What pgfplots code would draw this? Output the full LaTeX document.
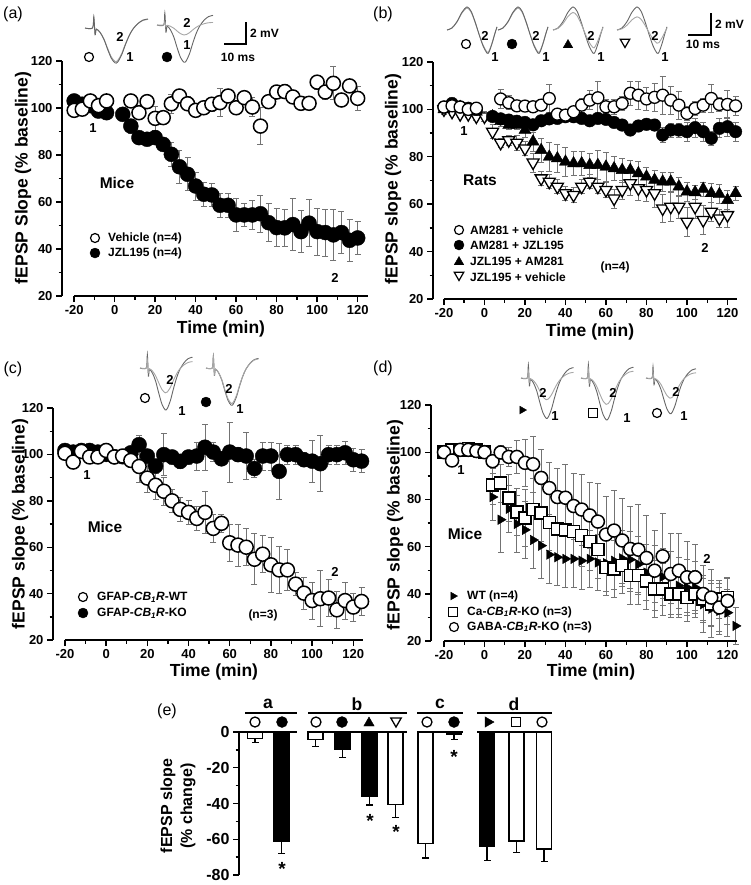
\documentclass[border=0pt]{standalone}
\usepackage{pgfplots}
\pgfplotsset{compat=1.18}
\usepackage{pgfplotstable}
\usepackage{fontspec}
\setmainfont{Liberation Sans}

% generic fEPSP trace shapes (px, y downwards)
\pgfplotstableread{
x y
0 0
6 0
7 -10
8 6
9 1
12 4
15 10
18 19
21 27
24 31
26 30
29 24
32 15
35 7
38 1
42 -4
46 -7
50 -8
}\waveA
\pgfplotstableread{
x y
0 0
5 -2
10 -8
15 -17
20 -22
24 -18
28 -8
32 4
36 15
40 22
42 21
45 13
48 3
50 -3
}\waveB

\newcommand{\trace}[6]{\addplot[#6] table[x expr=#2+#4*\thisrow{x}, y expr=#3+#5*\thisrow{y}] {#1};}

\pgfplotsset{
  tc/.style={
    anchor=south west, scale only axis,
    axis x line*=bottom, axis y line*=left,
    axis line style={-, line width=1.8pt},
    x axis line style={draw=none},
    ymin=20, ymax=120, ytick={20,40,...,120}, xtick={-20,0,...,120},
    minor x tick num=1, minor y tick num=1,
    tick align=outside, major tick length=6pt, minor tick length=3.5pt,
    tick style={black, line width=1.4pt},
    ticklabel style={font=\bfseries\fontsize{13}{13}\selectfont},
    /pgf/number format/assume math mode=true,
    clip=false,
  },
  errb/.style={error bars/.cd, y dir=both, y explicit,
    error bar style={black!55, line width=0.8pt},
    error mark options={rotate=90, black!55, mark size=3pt, line width=0.8pt}},
  mo/.style={mark=*, mark options={fill=white, draw=black, line width=#1}},
  mo/.default=1.5pt,
  mf/.style={mark=*, mark options={fill=black, draw=black}},
  mtu/.style={mark=triangle*, mark options={fill=black, draw=black}},
  mtd/.style={mark=triangle*, mark options={fill=white, draw=black, rotate=180, line width=#1}},
  mtd/.default=1.3pt,
  mtr/.style={mark=triangle*, mark options={fill=black, draw=black, rotate=-90}},
  msq/.style={mark=square*, mark options={fill=white, draw=black, line width=#1}},
  msq/.default=1.5pt,
  tr1/.style={black!60, line width=0.9pt, smooth},
  tr2/.style={black!35, line width=0.9pt, smooth},
}
\tikzset{
  t12/.style={font=\bfseries\fontsize{12}{12}\selectfont, inner sep=0pt},
  t13/.style={font=\bfseries\fontsize{13}{13}\selectfont, inner sep=0pt},
  t15/.style={font=\bfseries\fontsize{15.5}{15.5}\selectfont, inner sep=0pt},
  t16/.style={font=\bfseries\fontsize{16}{16}\selectfont, inner sep=0pt},
  t17/.style={font=\bfseries\fontsize{17.5}{17.5}\selectfont, inner sep=0pt},
  pl/.style={font=\fontsize{16}{16}\selectfont, inner sep=0pt},
}

\begin{document}
\begin{tikzpicture}
\useasboundingbox (0,0) rectangle (750pt,-885pt);

% ---------------- (a)
\begin{axis}[tc, at={(62pt,-296pt)}, width=306pt, height=235pt, xmin=-26, xmax=125.1]
\addplot[only marks, mf, mark size=7.5pt, errb] coordinates {
(-20,103) +- (0,1.5) (-16,101.6) +- (0,1) (-12,101) +- (0,1) (-8,98.7) +- (0,1) (-4,98) +- (0,1)
(4,97.3) +- (0,1) (8,92.3) +- (0,3) (12,87.4) +- (0,2) (16,86.7) +- (0,2) (20,87.4) +- (0,2)
(24,84.5) +- (0,2) (28,80.3) +- (0,5) (32,75) +- (0,7) (36,71.8) +- (0,7) (40,66.8) +- (0,6)
(44,63.3) +- (0,5) (48,63) +- (0,5) (52,58.6) +- (0,5) (56,58.6) +- (0,5) (60,54.5) +- (0,7)
(64,54.5) +- (0,5) (68,54.5) +- (0,6) (72,55) +- (0,8) (76,51.2) +- (0,8) (80,49.1) +- (0,8)
(84,49) +- (0,8) (88,50.4) +- (0,11) (92,47.4) +- (0,9) (96,51) +- (0,10) (100,47.4) +- (0,10)
(104,47) +- (0,10) (108,46) +- (0,11) (112,47) +- (0,9) (116,43.7) +- (0,9) (120,44.7) +- (0,7)};
\addplot[only marks, mo, mark size=7pt, errb] coordinates {
(-20,99) +- (0,2) (-16,99.5) +- (0,1.5) (-12,103) +- (0,1.5) (-8,101) +- (0,1.5) (-4,103) +- (0,2)
(8,103) +- (0,1.5) (12,98) +- (0,1.5) (16,102.7) +- (0,1.5) (20,95.6) +- (0,5) (24,95.9) +- (0,2)
(28,101.8) +- (0,4) (32,105.1) +- (0,2) (36,101.8) +- (0,3) (40,99) +- (0,1.5) (44,100.1) +- (0,1.5)
(48,101.6) +- (0,3) (52,102.3) +- (0,6) (56,105.1) +- (0,2) (60,100.1) +- (0,2) (64,104.4) +- (0,2)
(68,100.4) +- (0,4) (72,92.3) +- (0,8) (76,102.7) +- (0,1.5) (80,106.8) +- (0,2) (84,107) +- (0,3)
(88,104.7) +- (0,2) (92,102) +- (0,1.5) (96,102) +- (0,1.5) (100,111) +- (0,3) (104,106.8) +- (0,3)
(108,110.5) +- (0,7) (112,103.4) +- (0,2) (116,109.4) +- (0,1.5) (120,104.1) +- (0,5)};
\draw[line width=1.8pt] (axis cs:-20,20) -- (rel axis cs:1,0);
\end{axis}

% ---------------- (b)
\begin{axis}[tc, at={(433pt,-299pt)}, width=304pt, height=237pt, xmin=-25.4, xmax=124.7]
\addplot[only marks, mtd, mark size=7pt, errb] coordinates {
(-20,100) +- (0,2) (-16,99) +- (0,1.5) (-12,98) +- (0,1.5) (-8,98) +- (0,1.5) (-4,97) +- (0,1.5)
(0,97) +- (0,2) (4,90.6) +- (0,3) (8,85.9) +- (0,2) (12,87) +- (0,2) (16,85.9) +- (0,3)
(20,83.5) +- (0,3) (24,77.6) +- (0,4) (28,70.9) +- (0,3) (32,69.5) +- (0,3) (36,67.4) +- (0,3)
(40,64.6) +- (0,3) (44,63.9) +- (0,3) (48,67.4) +- (0,3) (52,69.5) +- (0,3) (56,67.4) +- (0,3)
(60,66) +- (0,3) (64,62.4) +- (0,4) (68,66) +- (0,4) (72,68.8) +- (0,5) (76,66.7) +- (0,5)
(80,66) +- (0,5) (84,64.6) +- (0,6) (88,58.2) +- (0,6) (92,58.9) +- (0,6) (96,58.9) +- (0,5)
(100,52.6) +- (0,6) (104,58.9) +- (0,5) (108,53.3) +- (0,6) (112,56.8) +- (0,4) (116,54) +- (0,4)
(120,55.4) +- (0,5)};
\addplot[only marks, mtu, mark size=7pt, errb] coordinates {
(-20,100) +- (0,2) (-16,101) +- (0,1.5) (-12,101) +- (0,1.5) (-8,100) +- (0,1.5) (-4,99) +- (0,1.5)
(4,97) +- (0,2) (8,95) +- (0,2) (12,93.4) +- (0,2) (16,93.4) +- (0,2) (20,91.3) +- (0,3)
(24,86.4) +- (0,4) (28,82.8) +- (0,5) (32,80) +- (0,6) (36,79.3) +- (0,6) (40,77.9) +- (0,6)
(44,77.2) +- (0,5) (48,77.2) +- (0,5) (52,76.5) +- (0,5) (56,76.5) +- (0,6) (60,75.8) +- (0,6)
(64,75.1) +- (0,5) (68,74.4) +- (0,5) (72,74.4) +- (0,4) (76,73) +- (0,5) (80,71.6) +- (0,4)
(84,70.2) +- (0,4) (88,69.5) +- (0,4) (92,69.5) +- (0,4) (96,67.4) +- (0,4) (100,65.3) +- (0,4)
(104,65) +- (0,3) (108,66.4) +- (0,3) (112,64.6) +- (0,4) (116,64.2) +- (0,4) (120,61.7) +- (0,4)
(124,64.6) +- (0,3)};
\addplot[only marks, mf, mark size=6.3pt, errb] coordinates {
(-20,101) +- (0,1.5) (-16,102.5) +- (0,1.5) (-12,101) +- (0,1) (-8,100.5) +- (0,1) (-4,100) +- (0,1)
(4,97) +- (0,2) (8,96) +- (0,2) (12,95.5) +- (0,2) (16,95) +- (0,2) (20,94.5) +- (0,2)
(24,93.5) +- (0,2) (28,95.2) +- (0,1.5) (32,96) +- (0,1.5) (36,96.2) +- (0,1.5) (40,96.9) +- (0,1.5)
(44,96.9) +- (0,1.5) (48,96.2) +- (0,1.5) (52,95.2) +- (0,1.5) (56,96.2) +- (0,1.5) (60,95.8) +- (0,1.5)
(64,94.5) +- (0,2) (68,93.4) +- (0,2) (72,91.3) +- (0,2) (76,93) +- (0,2) (80,93.7) +- (0,2)
(84,93.4) +- (0,2) (88,89.2) +- (0,3) (92,91.3) +- (0,3) (96,91.3) +- (0,3) (100,90.6) +- (0,4)
(104,92.3) +- (0,4) (108,90.6) +- (0,4) (112,87.8) +- (0,3) (116,92) +- (0,4) (120,92.7) +- (0,4)
(124,90.6) +- (0,4)};
\addplot[only marks, mo=1.3pt, mark size=6pt, errb] coordinates {
(-20,101) +- (0,2) (-16,101.5) +- (0,1.5) (-12,101) +- (0,1.5) (-8,100) +- (0,1.5) (-4,100.5) +- (0,1.5)
(8,104.4) +- (0,4) (12,102.8) +- (0,3) (16,101.5) +- (0,1) (20,101.4) +- (0,1) (24,101.1) +- (0,1)
(28,101.8) +- (0,2) (32,104.6) +- (0,6) (36,98) +- (0,2) (40,97.6) +- (0,2) (44,99) +- (0,2)
(48,101.8) +- (0,3) (52,103.9) +- (0,4) (56,104.9) +- (0,7) (60,101.1) +- (0,3) (64,101.1) +- (0,3)
(68,102.5) +- (0,3) (72,106.8) +- (0,5) (76,106) +- (0,6) (80,104.4) +- (0,5) (84,105.1) +- (0,6)
(88,106) +- (0,8) (92,103.9) +- (0,6) (96,101.8) +- (0,6) (100,98.3) +- (0,3) (104,100.4) +- (0,3)
(108,101.8) +- (0,3) (112,104.6) +- (0,6) (116,102.1) +- (0,3) (120,102.1) +- (0,6) (124,101.5) +- (0,4)};
\draw[line width=1.8pt] (axis cs:-20,20) -- (rel axis cs:1,0);
\end{axis}

% ---------------- (c)
\begin{axis}[tc, at={(53pt,-640pt)}, width=310pt, height=232pt, xmin=-25.8, xmax=124.7]
\addplot[only marks, mf, mark size=7.5pt, errb] coordinates {
(-20,101.7) +- (0,1) (-16,101) +- (0,1) (-12,101.7) +- (0,1) (-8,101.7) +- (0,1) (-4,101) +- (0,1)
(0,100) +- (0,1) (4,99) +- (0,1.5) (8,99) +- (0,1.5) (12,100.7) +- (0,2) (16,104.2) +- (0,4)
(20,99.3) +- (0,3) (24,95) +- (0,3) (28,99.9) +- (0,9) (32,98.9) +- (0,3) (36,97) +- (0,3)
(40,98.9) +- (0,3) (44,99.3) +- (0,6) (48,103.1) +- (0,10) (52,101) +- (0,4) (56,98.1) +- (0,3)
(60,101) +- (0,13) (64,99.9) +- (0,3) (68,99.3) +- (0,10) (72,93.9) +- (0,4) (76,99.3) +- (0,6)
(80,99.3) +- (0,6) (84,92.7) +- (0,12) (88,99.9) +- (0,4) (92,99.9) +- (0,4) (96,97.7) +- (0,3)
(100,97.1) +- (0,9) (104,96) +- (0,12) (108,99.9) +- (0,4) (112,99.9) +- (0,4) (116,100.7) +- (0,5)
(120,97.7) +- (0,5) (124,97.1) +- (0,5)};
\addplot[only marks, mo, mark size=7pt, errb] coordinates {
(-20,100.5) +- (0,2) (-16,96.7) +- (0,1) (-12,101.3) +- (0,1) (-8,98.9) +- (0,1) (-4,98.9) +- (0,1)
(0,101.7) +- (0,1) (4,98.9) +- (0,1.5) (8,99.3) +- (0,2) (12,97.4) +- (0,3) (16,94.8) +- (0,7)
(20,89.8) +- (0,6) (24,86.7) +- (0,6) (28,84.1) +- (0,6) (32,80) +- (0,5) (36,76.3) +- (0,5)
(40,75) +- (0,5) (44,72.4) +- (0,5) (48,75) +- (0,9) (52,68.1) +- (0,6) (56,70.3) +- (0,4)
(60,61.9) +- (0,8) (64,60.9) +- (0,9) (68,60) +- (0,8) (72,54.8) +- (0,11) (76,57) +- (0,8)
(80,52.4) +- (0,12) (84,50.2) +- (0,10) (88,50.2) +- (0,9) (92,44.1) +- (0,5) (96,40.2) +- (0,7)
(100,37) +- (0,8) (104,37.8) +- (0,12) (108,38.1) +- (0,8) (112,33) +- (0,8) (116,37) +- (0,8)
(120,34.2) +- (0,6) (124,36.6) +- (0,6)};
\draw[line width=1.8pt] (axis cs:-20,20) -- (rel axis cs:1,0);
\end{axis}

% ---------------- (d)
\begin{axis}[tc, at={(431pt,-641pt)}, width=306pt, height=236pt, xmin=-26.4, xmax=124.7]
\addplot[only marks, mtr, mark size=5.5pt, errb] coordinates {
(-20,100) +- (0,1) (-16,99) +- (0,1) (-12,100) +- (0,1) (-8,101) +- (0,1) (-4,100) +- (0,1)
(0,100) +- (0,1) (4,81) +- (0,10) (8,71.4) +- (0,14) (12,76) +- (0,10) (16,69.6) +- (0,12)
(20,67.1) +- (0,12) (24,62.8) +- (0,12) (28,60.4) +- (0,14) (32,56.6) +- (0,12) (36,55.5) +- (0,12)
(40,54.8) +- (0,12) (44,54.8) +- (0,12) (48,54) +- (0,12) (52,54.8) +- (0,12) (56,53.3) +- (0,12)
(60,53) +- (0,12) (64,54) +- (0,12) (68,55) +- (0,12) (72,54.5) +- (0,12) (76,52.5) +- (0,12)
(80,49) +- (0,12) (84,48.4) +- (0,12) (88,47.2) +- (0,12) (92,47) +- (0,11) (96,43.4) +- (0,12)
(100,42.7) +- (0,12) (104,42.7) +- (0,11) (108,35.6) +- (0,12) (112,33.7) +- (0,12) (116,32.8) +- (0,10)
(120,32) +- (0,10) (124,26.4) +- (0,8)};
\addplot[only marks, msq, mark size=6pt, errb] coordinates {
(-20,100) +- (0,1) (-16,101) +- (0,1) (-12,101) +- (0,1) (-8,101.5) +- (0,1) (-4,101) +- (0,1)
(0,100) +- (0,1) (4,86) +- (0,8) (8,86.9) +- (0,8) (12,80.7) +- (0,10) (16,74.6) +- (0,10)
(20,72.2) +- (0,12) (24,75.7) +- (0,13) (28,74.3) +- (0,12) (32,70.3) +- (0,12) (36,67.5) +- (0,12)
(40,67.1) +- (0,12) (44,66.5) +- (0,12) (48,64.7) +- (0,13) (52,62.1) +- (0,12) (56,58.7) +- (0,12)
(60,51.2) +- (0,12) (64,50.5) +- (0,12) (68,52) +- (0,12) (72,47.7) +- (0,12) (76,47.7) +- (0,12)
(80,45.5) +- (0,12) (84,42) +- (0,12) (88,42) +- (0,11) (92,39.9) +- (0,10) (96,39.9) +- (0,10)
(100,38.4) +- (0,10) (104,39.9) +- (0,10) (108,37.7) +- (0,9) (112,35.6) +- (0,9) (116,37.7) +- (0,8)
(120,38.4) +- (0,8)};
\addplot[only marks, mo, mark size=6.5pt, errb] coordinates {
(-20,100) +- (0,1) (-16,96.5) +- (0,1) (-12,101) +- (0,1) (-8,101) +- (0,1) (-4,100.5) +- (0,1)
(0,100) +- (0,1) (4,96.2) +- (0,3) (8,99.9) +- (0,3) (12,98) +- (0,4) (16,98) +- (0,7)
(20,95.5) +- (0,10) (24,94.9) +- (0,12) (28,89.1) +- (0,12) (32,84.8) +- (0,11) (36,81) +- (0,12)
(40,80.7) +- (0,14) (44,77.2) +- (0,14) (48,75.7) +- (0,15) (52,73.2) +- (0,14) (56,70.6) +- (0,16)
(60,65.1) +- (0,16) (64,66.8) +- (0,17) (68,62.6) +- (0,18) (72,59) +- (0,18) (76,58.7) +- (0,19)
(80,55.2) +- (0,18) (84,49.8) +- (0,17) (88,55.9) +- (0,18) (92,48.4) +- (0,17) (96,49.8) +- (0,16)
(100,47) +- (0,15) (104,47) +- (0,14) (108,39.9) +- (0,12) (112,38.4) +- (0,12) (116,34.2) +- (0,10)
(120,37) +- (0,10)};
\draw[line width=1.8pt] (axis cs:-20,20) -- (rel axis cs:1,0);
\end{axis}

% ---------------- (e)
\begin{axis}[at={(239pt,-875pt)}, anchor=south west, scale only axis,
  width=321pt, height=143pt, xmin=239, xmax=560, ymin=-80, ymax=0,
  axis x line=none, axis y line*=left, axis line style={-, line width=1.8pt},
  ytick={-80,-60,...,0}, minor y tick num=1,
  tick align=outside, major tick length=6pt, minor tick length=3.5pt,
  tick style={black, line width=1.4pt},
  yticklabel style={font=\bfseries\fontsize{16}{16}\selectfont},
  /pgf/number format/assume math mode=true, clip=false]
\addplot[ybar, bar width=15, bar shift=0pt, fill=white, draw=black, line width=1.4pt,
  error bars/.cd, y dir=minus, y explicit, error bar style={black, line width=1.2pt},
  error mark options={rotate=90, black, mark size=3.5pt, line width=1.2pt}] coordinates {
(255,-3.5) +- (0,2.5) (315.5,-4.3) +- (0,4) (395.5,-40.5) +- (0,7.2)
(425.5,-62.5) +- (0,8) (516.5,-61) +- (0,6.5) (544,-65.5) +- (0,7)};
\addplot[ybar, bar width=15, bar shift=0pt, fill=black, draw=black, line width=1.4pt,
  error bars/.cd, y dir=minus, y explicit, error bar style={black, line width=1.2pt},
  error mark options={rotate=90, black, mark size=3.5pt, line width=1.2pt}] coordinates {
(281.5,-61.3) +- (0,6.7) (342.5,-9.8) +- (0,4.6) (369.5,-35.8) +- (0,5)
(454,-1) +- (0,3) (487,-63.7) +- (0,8.2)};
\end{axis}

% ---------------- overlay canvas in pixel units
\begin{axis}[at={(0pt,0pt)}, anchor=north west, scale only axis, width=750pt, height=885pt,
  xmin=0, xmax=750, ymin=0, ymax=885, y dir=reverse, hide axis, clip=false]
% panel labels
\node[pl] at (13,14) {(a)};
\node[pl] at (383,14) {(b)};
\node[pl] at (13,369) {(c)};
\node[pl] at (383,368) {(d)};
\node[pl] at (167,711) {(e)};
% axis titles
\node[t17, rotate=90] at (23,178) {fEPSP Slope (\% baseline)};
\node[t17, rotate=90] at (393,179) {fEPSP slope (\% baseline)};
\node[t17, rotate=90] at (20,524) {fEPSP slope (\% baseline)};
\node[t17, rotate=90] at (395,525) {fEPSP slope (\% baseline)};
\node[t17] at (221,329) {Time (min)};
\node[t17] at (590,332) {Time (min)};
\node[t17] at (214,672) {Time (min)};
\node[t17] at (591,672) {Time (min)};
\node[t16, rotate=90] at (168,806) {fEPSP slope};
\node[t16, rotate=90] at (188,806) {(\% change)};

% (a) annotations and legend
\node[t15] at (117,183) {Mice};
\node[t13] at (93,128) {1};
\node[t13] at (335,278) {2};
\addplot[only marks, mo=1.2pt, mark size=4.5pt] coordinates {(95,238)};
\addplot[only marks, mf, mark size=5pt] coordinates {(95,253)};
\node[t12, anchor=west] at (108,238) {Vehicle (n=4)};
\node[t12, anchor=west] at (108,253) {JZL195 (n=4)};
% (a) insets
\trace{\waveA}{85}{28}{1.26}{1.08}{tr2}
\trace{\waveA}{85}{28}{1.26}{1.13}{tr1}
\trace{\waveA}{157}{25}{1.12}{1.2}{tr1}
\trace{\waveA}{157}{25}{1.12}{0.32}{tr2}
\addplot[only marks, mo=1.2pt, mark size=4.5pt] coordinates {(89,57)};
\addplot[only marks, mf, mark size=5pt] coordinates {(167,57)};
\node[t13] at (120,37) {2};
\node[t13] at (130,57) {1};
\node[t13] at (187,23) {2};
\node[t13] at (187,45) {1};
\addplot[line width=2.2pt] coordinates {(224,44) (246,44) (246,22)};
\node[t12, anchor=west] at (250,33) {2 mV};
\node[t12] at (238,57) {10 ms};

% (b) annotations and legend
\node[t15] at (480,180) {Rats};
\node[t12] at (615,267) {(n=4)};
\node[t13] at (705,248) {2};
\node[t13] at (464,131) {1};
\addplot[only marks, mo=1.2pt, mark size=4.5pt] coordinates {(459,230)};
\addplot[only marks, mf, mark size=5pt] coordinates {(459,245)};
\addplot[only marks, mtu, mark size=5.5pt] coordinates {(459,262)};
\addplot[only marks, mtd=1.2pt, mark size=5.5pt] coordinates {(459,275)};
\node[t12, anchor=west] at (470,230) {AM281 + vehicle};
\node[t12, anchor=west] at (470,245) {AM281 + JZL195};
\node[t12, anchor=west] at (470,261) {JZL195 + AM281};
\node[t12, anchor=west] at (470,277) {JZL195 + vehicle};
% (b) insets
\trace{\waveB}{447}{30}{1}{1.0}{tr2}
\trace{\waveB}{447}{30}{1}{1.05}{tr1}
\trace{\waveB}{498}{30}{1}{1.0}{tr2}
\trace{\waveB}{498}{30}{1}{1.05}{tr1}
\trace{\waveB}{553}{30}{1}{1.05}{tr1}
\trace{\waveB}{553}{30}{1}{0.8}{tr2}
\trace{\waveB}{617}{30}{1}{1.05}{tr1}
\trace{\waveB}{617}{30}{1}{0.6}{tr2}
\addplot[only marks, mo=1.2pt, mark size=4.5pt] coordinates {(466,44)};
\addplot[only marks, mf, mark size=5pt] coordinates {(512,44)};
\addplot[only marks, mtu, mark size=5.5pt] coordinates {(568,45)};
\addplot[only marks, mtd=1.2pt, mark size=5.5pt] coordinates {(625,42)};
\node[t13] at (485,36) {2};
\node[t13] at (495,57) {1};
\node[t13] at (536,36) {2};
\node[t13] at (546,57) {1};
\node[t13] at (591,36) {2};
\node[t13] at (601,57) {1};
\node[t13] at (655,36) {2};
\node[t13] at (665,57) {1};
\addplot[line width=2.2pt] coordinates {(688,35) (711,35) (711,13)};
\node[t12, anchor=west] at (715,24) {2 mV};
\node[t12] at (703,44) {10 ms};

% (c) annotations and legend
\node[t15] at (105,527) {Mice};
\node[t12] at (263,615) {(n=3)};
\node[t13] at (335,572) {2};
\node[t13] at (87,475) {1};
\addplot[only marks, mo=1.2pt, mark size=4.5pt] coordinates {(83,597)};
\addplot[only marks, mf, mark size=5pt] coordinates {(83,613)};
\node[t12, anchor=west] at (97,597) {GFAP-\textit{CB\textsubscript{1}R}-WT};
\node[t12, anchor=west] at (97,613) {GFAP-\textit{CB\textsubscript{1}R}-KO};
% (c) insets
\trace{\waveA}{140}{368}{1.05}{1.35}{tr1}
\trace{\waveA}{140}{368}{1.05}{0.8}{tr2}
\trace{\waveA}{206}{368}{1.05}{1.2}{tr1}
\trace{\waveA}{206}{368}{1.05}{1.14}{tr2}
\addplot[only marks, mo=1.2pt, mark size=4.5pt] coordinates {(145,398)};
\addplot[only marks, mf, mark size=5pt] coordinates {(206,402)};
\node[t13] at (170,380) {2};
\node[t13] at (182,411) {1};
\node[t13] at (229,389) {2};
\node[t13] at (240,409) {1};

% (d) annotations and legend
\node[t15] at (465,534) {Mice};
\node[t13] at (707,559) {2};
\node[t13] at (461,470) {1};
\addplot[only marks, mtr, mark size=4.5pt] coordinates {(453,596)};
\addplot[only marks, msq=1.2pt, mark size=4.3pt] coordinates {(453,612)};
\addplot[only marks, mo=1.2pt, mark size=4.5pt] coordinates {(454,627)};
\node[t12, anchor=west] at (467,596) {WT (n=4)};
\node[t12, anchor=west] at (467,612) {Ca-\textit{CB\textsubscript{1}R}-KO (n=3)};
\node[t12, anchor=west] at (467,627) {GABA-\textit{CB\textsubscript{1}R}-KO (n=3)};
% (d) insets
\trace{\waveA}{521}{378}{1.05}{1.3}{tr1}
\trace{\waveA}{521}{378}{1.05}{0.7}{tr2}
\trace{\waveA}{581}{378}{1.05}{1.35}{tr1}
\trace{\waveA}{581}{378}{1.05}{0.85}{tr2}
\trace{\waveA}{646}{378}{1.0}{1.15}{tr1}
\trace{\waveA}{646}{378}{1.0}{0.65}{tr2}
\addplot[only marks, mtr, mark size=4.5pt] coordinates {(522,410)};
\addplot[only marks, msq=1.2pt, mark size=4.3pt] coordinates {(593,413)};
\addplot[only marks, mo=1.2pt, mark size=4.5pt] coordinates {(657,413)};
\node[t13] at (543,393) {2};
\node[t13] at (555,416) {1};
\node[t13] at (613,393) {2};
\node[t13] at (627,418) {1};
\node[t13] at (676,392) {2};
\node[t13] at (684,416) {1};

% (e) group headers, symbols, zero-line segments, stars
\draw[line width=1.8pt] (239,732) -- (297,732);
\draw[line width=1.8pt] (308,732) -- (407,732);
\draw[line width=1.8pt] (417,732) -- (463,732);
\draw[line width=1.8pt] (477,732) -- (552,732);
\draw[line width=1.5pt] (245,713) -- (297,713);
\draw[line width=1.5pt] (308,713) -- (407,713);
\draw[line width=1.5pt] (417,713) -- (463,713);
\draw[line width=1.5pt] (477,713) -- (552,713);
\node[t17] at (268,704) {a};
\node[t17] at (357,704) {b};
\node[t17] at (440,704) {c};
\node[t17] at (514,704) {d};
\addplot[only marks, mo=1.3pt, mark size=5pt] coordinates {(255,722) (316,722) (427,722) (542,722)};
\addplot[only marks, mf, mark size=5.5pt] coordinates {(282,722) (342,722) (454,722)};
\addplot[only marks, mtu, mark size=6pt] coordinates {(369,723)};
\addplot[only marks, mtd=1.3pt, mark size=6pt] coordinates {(396,721)};
\addplot[only marks, mtr, mark size=6pt] coordinates {(488,722)};
\addplot[only marks, msq=1.3pt, mark size=4.5pt] coordinates {(516,722)};
\node[font=\bfseries\fontsize{19}{19}\selectfont, inner sep=0pt] at (282,869) {*};
\node[font=\bfseries\fontsize{19}{19}\selectfont, inner sep=0pt] at (370,821) {*};
\node[font=\bfseries\fontsize{19}{19}\selectfont, inner sep=0pt] at (396,832) {*};
\node[font=\bfseries\fontsize{19}{19}\selectfont, inner sep=0pt] at (454,757) {*};
\end{axis}
\end{tikzpicture}
\end{document}
